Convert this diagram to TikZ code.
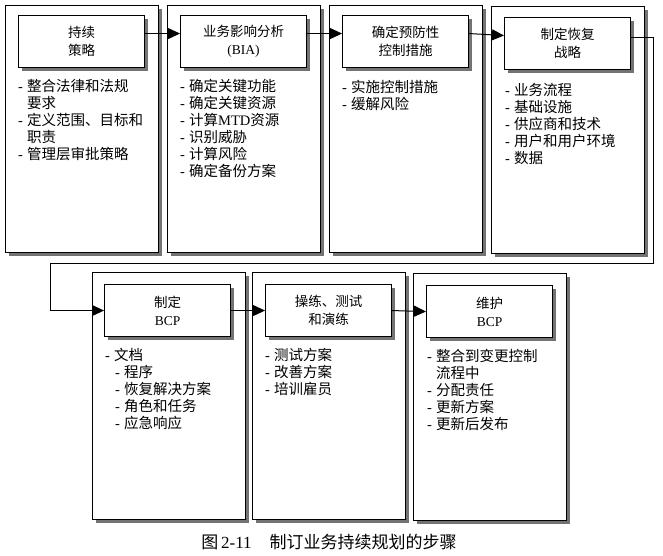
\documentclass[tikz,border=0pt]{standalone}
\usepackage{fontspec}
\setmainfont{Liberation Serif}
\newfontfamily\cjk{Noto Sans CJK SC}
\usetikzlibrary{shadows,arrows.meta}
\newcommand\lt[1]{{\rmfamily #1}}
\newcommand\dd{\makebox[9pt][l]{\rmfamily -}}
\newcommand\ind{\hspace*{9pt}}
\tikzset{
  shad/.style={drop shadow={shadow xshift=3pt,shadow yshift=-3pt,fill=black!55,opacity=1}},
  panel/.style={draw=black,line width=1.1pt,fill=white,shad,anchor=north west,
    minimum width=153pt,minimum height=247pt,inner sep=0pt},
  head/.style={draw=black,line width=1.1pt,fill=white,shad,anchor=north west,
    minimum width=126pt,minimum height=52pt,inner sep=0pt,align=center,
    font=\cjk\fontsize{13.5}{18}\selectfont},
  body/.style={anchor=north west,inner sep=0pt,align=left,
    font=\cjk\fontsize{14.5}{17}\selectfont},
  arr/.style={line width=1pt,-{Triangle[length=12pt,width=11pt]}},
}
\begin{document}
\begin{tikzpicture}[x=1pt,y=-1pt]
\useasboundingbox[fill=white] (0,0) rectangle (663,556);
% top row panels
\node[panel] (p1) at (5,5) {};
\node[panel] (p2) at (167,5) {};
\node[panel] (p3) at (329,5) {};
\node[panel] (p4) at (491,6) {};
\node[head] (h1) at (18,15) {持续\\策略};
\node[head] (h2) at (180,15) {业务影响分析\\\lt{(BIA)}};
\node[head] (h3) at (342,15) {确定预防性\\控制措施};
\node[head] (h4) at (504,17) {制定恢复\\战略};
\node[body] (b1) at (18,79) {\dd 整合法律和法规\\\ind 要求\\\dd 定义范围、目标和\\\ind 职责\\\dd 管理层审批策略};
\node[body] (b2) at (180,79) {\dd 确定关键功能\\\dd 确定关键资源\\\dd 计算\lt{MTD}资源\\\dd 识别威胁\\\dd 计算风险\\\dd 确定备份方案};
\node[body] (b3) at (342,80) {\dd 实施控制措施\\\dd 缓解风险};
\node[body] (b4) at (505,83) {\dd 业务流程\\\dd 基础设施\\\dd 供应商和技术\\\dd 用户和用户环境\\\dd 数据};
% bottom row panels
\node[panel] (p5) at (92,272) {};
\node[panel] (p6) at (252,272) {};
\node[panel] (p7) at (413,273) {};
\node[head] (h5) at (104,284) {制定\\\lt{BCP}};
\node[head] (h6) at (265,284) {操练、测试\\和演练};
\node[head] (h7) at (426,285) {维护\\\lt{BCP}};
\node[body] (b5) at (105,348) {\dd 文档\\\hspace*{10pt}\dd 程序\\\hspace*{10pt}\dd 恢复解决方案\\\hspace*{10pt}\dd 角色和任务\\\hspace*{10pt}\dd 应急响应};
\node[body] (b6) at (265,348) {\dd 测试方案\\\dd 改善方案\\\dd 培训雇员};
\node[body] (b7) at (427,349) {\dd 整合到变更控制\\\ind 流程中\\\dd 分配责任\\\dd 更新方案\\\dd 更新后发布};
% connectors
\draw[arr] ([yshift=8pt]h1.east) -- ([yshift=8pt]h2.west);
\draw[arr] ([yshift=8pt]h2.east) -- ([yshift=8pt]h3.west);
\draw[arr] ([yshift=8pt]h3.east) -- ([yshift=8pt]h4.west);
\coordinate (c1) at (653,263);
\coordinate (c2) at (50,263);
\draw[arr] ([yshift=6pt]h4.east) -| (c1) -- (c2) |- (h5.west);
\draw[arr] (h5.east) -- (h6.west);
\draw[arr] (h6.east) -- (h7.west);
% caption
\node[font=\cjk\fontsize{17}{20}\selectfont] (cap) at (329,542) {图\,\lt{2-11}\hspace{18pt}制订业务持续规划的步骤};
\end{tikzpicture}
\end{document}
